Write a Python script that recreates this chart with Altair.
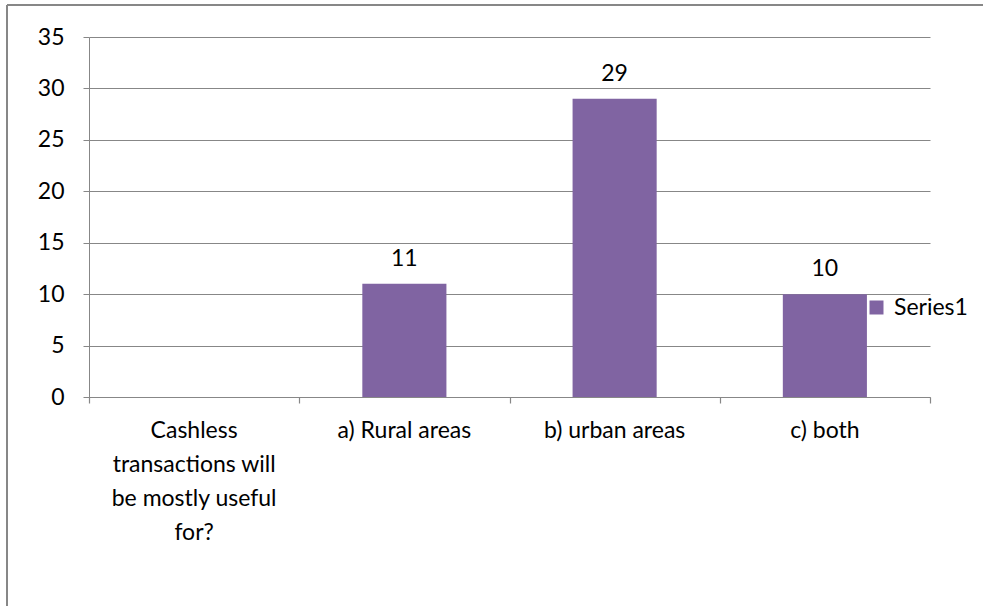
import altair as alt
import pandas as pd

categories = ["Cashless transactions will be mostly useful for?", "a) Rural areas", "b) urban areas", "c) both"]
values = [None, 11, 29, 10]
series_name = "Series1"
y_ticks = [0, 5, 10, 15, 20, 25, 30, 35]
boundary_ticks = [0, 1, 2, 3, 4]

df = pd.DataFrame({"category": categories, "value": values, "series": [series_name] * 4})
tick_df = pd.DataFrame({"pos": boundary_ticks})

FONT = "Lato"
FS = 23
GRAY = "#878787"
PURPLE = "#8064A2"

x_enc = alt.X(
    "category:N",
    sort=categories,
    scale=alt.Scale(paddingInner=0.6, paddingOuter=0.3),
    axis=alt.Axis(
        title=None, labelAngle=0, labelFontSize=FS, labelFont=FONT, labelColor="#000000",
        labelLimit=220, labelPadding=22, labelLineHeight=34,
        labelExpr="datum.value == 'Cashless transactions will be mostly useful for?' ? ['Cashless', 'transactions will', 'be mostly useful', 'for?'] : datum.value",
        ticks=False, domainColor=GRAY, grid=False,
    ),
)
y_enc = alt.Y(
    "value:Q",
    scale=alt.Scale(domain=[0, 35], nice=False),
    axis=alt.Axis(
        title=None, values=y_ticks, labelFontSize=FS, labelFont=FONT, labelColor="#000000",
        labelPadding=19, tickSize=6, tickColor=GRAY, domainColor=GRAY, gridColor=GRAY,
        gridWidth=1.2,
    ),
)

bars = alt.Chart(df).mark_bar(color=PURPLE).encode(
    x=x_enc,
    y=y_enc,
    color=alt.Color(
        "series:N",
        scale=alt.Scale(range=[PURPLE]),
        legend=alt.Legend(
            orient="none", legendX=776, legendY=259, title=None, symbolType="square",
            symbolSize=196, symbolStrokeWidth=0, labelFontSize=FS, labelFont=FONT,
            labelColor="#000000", labelOffset=6, padding=0,
        ),
    ),
)

labels = alt.Chart(df).transform_filter("isValid(datum.value)").mark_text(
    fontSize=FS, font=FONT, color="#000000", baseline="alphabetic", dy=-18
).encode(
    x=alt.X("category:N", sort=categories),
    y=alt.Y("value:Q"),
    text=alt.Text("value:Q"),
)

main = alt.layer(bars, labels)

ticks = alt.Chart(tick_df).mark_rule(opacity=0).encode(
    x=alt.X(
        "pos:Q",
        scale=alt.Scale(domain=[0, 4], nice=False, zero=False),
        axis=alt.Axis(
            orient="bottom", title=None, values=boundary_ticks, labels=False, domain=False,
            grid=False, tickSize=6, tickColor=GRAY, tickWidth=1.2,
        ),
    ),
    y=alt.value(0),
    y2=alt.value(1),
)

border_left = alt.Chart(df).mark_rule(color=GRAY, strokeWidth=1.5).encode(
    x=alt.value(-82), y=alt.value(-32), y2=alt.value(569)
)
border_top = alt.Chart(df).mark_rule(color=GRAY, strokeWidth=1.5).encode(
    x=alt.value(-82), x2=alt.value(894), y=alt.value(-32)
)

chart = alt.layer(main, ticks, border_left, border_top).resolve_scale(
    x="independent"
).resolve_axis(x="independent").properties(
    width=841, height=360,
    autosize=alt.AutoSizeParams(type="none"),
    padding={"left": 89, "top": 37, "right": 53, "bottom": 209},
    background="white",
).configure_view(stroke=None)

chart.save("out.html", embed_options={"renderer": "svg", "actions": False})
